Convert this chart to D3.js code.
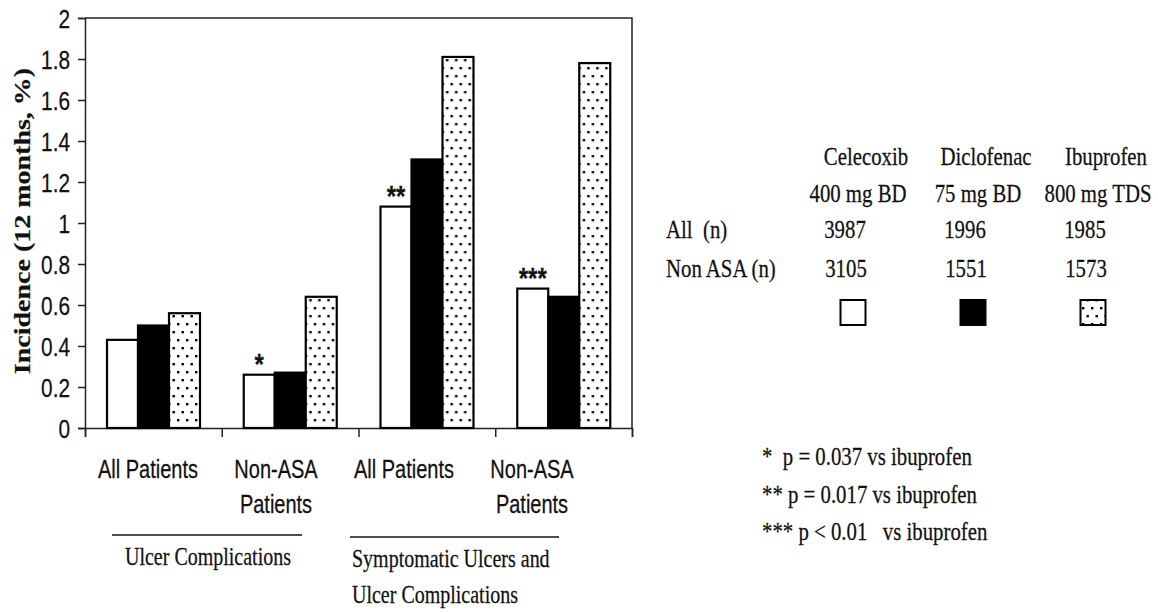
<!DOCTYPE html>
<html>
<head>
<meta charset="utf-8">
<script src="https://cdn.jsdelivr.net/npm/d3@7"></script>
<style>
  body { margin: 0; background: #fff; }
  svg text { fill: #111; stroke: #111; stroke-width: 0.25px; }
</style>
</head>
<body>
<svg id="chart" width="1158" height="612"></svg>
<script>
// data
const categories = [["All Patients"], ["Non-ASA", "Patients"], ["All Patients"], ["Non-ASA", "Patients"]];
const celecoxib = [0.43, 0.26, 1.08, 0.68];
const diclofenac = [0.50, 0.27, 1.31, 0.64];
const ibuprofen = [0.56, 0.64, 1.81, 1.78];
const stars = ["", "*", "**", "***"];
const yTicks = [0, 0.2, 0.4, 0.6, 0.8, 1, 1.2, 1.4, 1.6, 1.8, 2];

const drugs = ["Celecoxib", "Diclofenac", "Ibuprofen"];
const doses = ["400 mg BD", "75 mg BD", "800 mg TDS"];
const nAll = [3987, 1996, 1985];
const nNonAsa = [3105, 1551, 1573];

const groupTitles = [["Ulcer Complications"], ["Symptomatic Ulcers and", "Ulcer Complications"]];
const footnotes = ["*  p = 0.037 vs ibuprofen", "** p = 0.017 vs ibuprofen", "*** p < 0.01   vs ibuprofen"];

const SQ = 0.8; // the original is squeezed horizontally
const SANS = "'Liberation Sans', Arial, sans-serif";
const SERIF = "'Liberation Serif', 'Times New Roman', serif";

const svg = d3.select("#chart");

// dotted pattern for ibuprofen
const defs = svg.append("defs");
const pat = defs.append("pattern")
	.attr("id", "dots")
	.attr("patternUnits", "userSpaceOnUse")
	.attr("width", 9)
	.attr("height", 16);
pat.append("rect").attr("width", 9).attr("height", 16).attr("fill", "#fff");
pat.append("rect").attr("x", 2).attr("y", 3).attr("width", 2.4).attr("height", 2.4).attr("fill", "#000");
pat.append("rect").attr("x", 6.5).attr("y", 11).attr("width", 2.4).attr("height", 2.4).attr("fill", "#000");

const fills = ["#fff", "#000", "url(#dots)"];
const series = [celecoxib, diclofenac, ibuprofen];

const pLeft = 85, pRight = 632, pTop = 18, pBottom = 428;

const x0 = d3.scaleBand().domain(d3.range(categories.length)).range([pLeft, pRight]).padding(0);
const x1 = d3.scaleBand().domain(d3.range(series.length)).range([22, 115]).padding(0);
const y = d3.scaleLinear().domain([0, 2]).range([pBottom, pTop]);
const labelX = d3.scalePoint().domain(d3.range(categories.length)).range([148, 532]);

function squeezed(g, x, yy, str, font, size, anchor) {
	return g.append("text")
		.attr("transform", `translate(${x},${yy}) scale(${SQ},1)`)
		.attr("font-family", font)
		.attr("font-size", size)
		.attr("text-anchor", anchor || "start")
		.text(str);
}

// frame (top + right)
svg.append("path")
	.attr("d", `M${pLeft},${pTop}H${pRight}V${pBottom}`)
	.attr("fill", "none")
	.attr("stroke", "#222")
	.attr("stroke-width", 1.5);

// y axis
const yAxis = svg.append("g")
	.attr("transform", `translate(${pLeft},0)`)
	.call(d3.axisLeft(y).tickValues(yTicks).tickSize(7).tickFormat(d3.format("")));
yAxis.select(".domain").attr("stroke", "#222").attr("stroke-width", 1.5);
yAxis.selectAll(".tick line").attr("stroke", "#222").attr("stroke-width", 1.5);
yAxis.selectAll(".tick text")
	.attr("x", -15 / SQ)
	.attr("dy", "0.36em")
	.attr("transform", `scale(${SQ},1)`)
	.attr("font-family", SANS)
	.attr("font-size", 26);

// x axis, ticks on band edges
const xEdge = d3.scaleLinear().domain([0, categories.length]).range([pLeft, pRight]);
const xAxis = svg.append("g")
	.attr("transform", `translate(0,${pBottom})`)
	.call(d3.axisBottom(xEdge).ticks(categories.length).tickSize(9).tickFormat(""));
xAxis.select(".domain").attr("stroke", "#222").attr("stroke-width", 1.5);
xAxis.selectAll(".tick line").attr("stroke", "#222").attr("stroke-width", 1.5);

// bars
const groups = svg.append("g").selectAll("g")
	.data(categories.map((c, i) => i))
	.join("g")
	.attr("transform", i => `translate(${x0(i)},0)`);

groups.selectAll("rect")
	.data(i => series.map((s, k) => ({k: k, v: s[i]})))
	.join("rect")
	.attr("x", d => x1(d.k))
	.attr("y", d => y(d.v))
	.attr("width", x1.bandwidth())
	.attr("height", d => y(0) - y(d.v))
	.attr("fill", d => fills[d.k])
	.attr("stroke", "#000")
	.attr("stroke-width", 2.2);

// significance stars over celecoxib
groups.each(function(i) {
	if (!stars[i]) return;
	squeezed(d3.select(this), x1(0) + x1.bandwidth() / 2, y(celecoxib[i]) - 1, stars[i], SANS, 30, "middle")
		.attr("font-weight", "bold");
});

// y axis title
svg.append("text")
	.attr("transform", `translate(30,221) scale(${SQ},1) rotate(-90)`)
	.attr("font-family", SERIF)
	.attr("font-weight", "bold")
	.attr("font-size", 28)
	.attr("text-anchor", "middle")
	.text("Incidence (12 months, %)");

// category labels
categories.forEach((lines, i) => {
	lines.forEach((l, j) => {
		squeezed(svg, labelX(i), 478 + j * 35, l, SANS, 25, "middle");
	});
});

// group brackets
const brackets = [[112, 302, 535], [350, 559, 537]];
brackets.forEach(b => {
	svg.append("line")
		.attr("x1", b[0]).attr("x2", b[1])
		.attr("y1", b[2]).attr("y2", b[2])
		.attr("stroke", "#111")
		.attr("stroke-width", 1.5);
});
squeezed(svg, 208, 565, groupTitles[0][0], SERIF, 25, "middle");
groupTitles[1].forEach((l, j) => {
	squeezed(svg, 352, 567 + j * 36, l, SERIF, 25, "start");
});

// legend table
const colX = d3.scalePoint().domain(drugs).range([858, 1098]);
drugs.forEach((d, i) => {
	const cx = colX(d);
	squeezed(svg, cx + 8, 165, d, SERIF, 26, "middle");
	squeezed(svg, cx, 202, doses[i], SERIF, 26, "middle");
	squeezed(svg, cx - 13, 238, nAll[i], SERIF, 26, "middle");
	squeezed(svg, cx - 12, 277, nNonAsa[i], SERIF, 26, "middle");
	svg.append("rect")
		.attr("x", cx - 5 - 12.5)
		.attr("y", 300)
		.attr("width", 25)
		.attr("height", 25)
		.attr("fill", fills[i])
		.attr("stroke", "#000")
		.attr("stroke-width", 2);
});
squeezed(svg, 666, 238, "All  (n)", SERIF, 26, "start").attr("xml:space", "preserve");
squeezed(svg, 666, 277, "Non ASA (n)", SERIF, 26, "start");

// footnotes
footnotes.forEach((f, i) => {
	squeezed(svg, 762, 465 + i * 37.5, f, SERIF, 26, "start").attr("xml:space", "preserve");
});
</script>
</body>
</html>
